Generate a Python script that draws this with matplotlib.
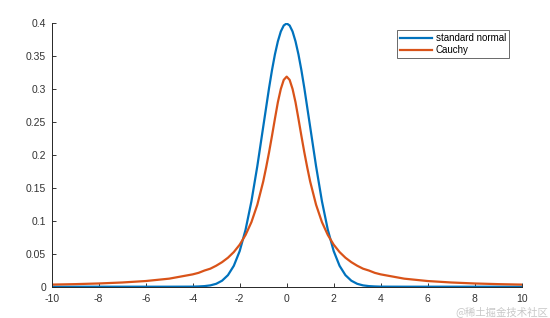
import matplotlib
matplotlib.use("Agg")
import matplotlib.pyplot as plt

x_vals = [-10, -9, -8, -7, -6, -5, -4,
          -3.75, -3.5, -3.25, -3, -2.75, -2.5, -2.25, -2, -1.75, -1.5, -1.25, -1,
          -0.875, -0.75, -0.625, -0.5, -0.375, -0.25, -0.125, 0,
          0.125, 0.25, 0.375, 0.5, 0.625, 0.75, 0.875,
          1, 1.25, 1.5, 1.75, 2,
          2.25, 2.5, 2.75, 3, 3.25, 3.5, 3.75,
          4, 5, 6, 7, 8, 9, 10]

normal_vals = [0, 0, 0, 0, 0, 0, 0.0001,
               0.0004, 0.0009, 0.0020, 0.0044, 0.0091, 0.0175, 0.0317, 0.0540, 0.0863, 0.1295, 0.1826, 0.2420,
               0.2715, 0.3011, 0.3282, 0.3521, 0.3718, 0.3867, 0.3958, 0.3989,
               0.3958, 0.3867, 0.3718, 0.3521, 0.3282, 0.3011, 0.2715,
               0.2420, 0.1826, 0.1295, 0.0863, 0.0540,
               0.0317, 0.0175, 0.0091, 0.0044, 0.0020, 0.0009, 0.0004,
               0.0001, 0, 0, 0, 0, 0, 0]

cauchy_vals = [0.0032, 0.0039, 0.0049, 0.0064, 0.0086, 0.0122, 0.0187,
               0.0210, 0.0245, 0.0273, 0.0318, 0.0372, 0.0439, 0.0525, 0.0637, 0.0784, 0.0979, 0.1242, 0.1592,
               0.1806, 0.2037, 0.2287, 0.2546, 0.2796, 0.2996, 0.3134, 0.3183,
               0.3134, 0.2996, 0.2796, 0.2546, 0.2287, 0.2037, 0.1806,
               0.1592, 0.1242, 0.0979, 0.0784, 0.0637,
               0.0525, 0.0439, 0.0372, 0.0318, 0.0273, 0.0245, 0.0210,
               0.0187, 0.0122, 0.0086, 0.0064, 0.0049, 0.0039, 0.0032]

series_labels = ["standard normal", "Cauchy"]
x_ticks = [-10, -8, -6, -4, -2, 0, 2, 4, 6, 8, 10]
y_ticks = [0, 0.05, 0.1, 0.15, 0.2, 0.25, 0.3, 0.35, 0.4]
y_tick_labels = ["0", "0.05", "0.1", "0.15", "0.2", "0.25", "0.3", "0.35", "0.4"]

plt.rcParams["font.family"] = ["Liberation Sans", "DejaVu Sans"]

fig = plt.figure(figsize=(5.5, 3.18), dpi=100)
ax = fig.add_axes([0.094, 0.0984, 0.8545, 0.8302])

ax.plot(x_vals, normal_vals, color="#0072BD", lw=1.6, label=series_labels[0])
ax.plot(x_vals, cauchy_vals, color="#D95319", lw=1.6, label=series_labels[1])

ax.set_xlim(-10, 10)
ax.set_ylim(0, 0.4)
ax.set_xticks(x_ticks)
ax.set_xticklabels([str(t) for t in x_ticks])
ax.set_yticks(y_ticks)
ax.set_yticklabels(y_tick_labels)
ax.tick_params(direction="in", length=3, width=0.7, labelsize=7.5, colors="#333333")
ax.tick_params(axis="x", pad=5.5)
ax.tick_params(axis="y", pad=4)
for s in ["top", "right"]:
    ax.spines[s].set_visible(False)
for s in ["left", "bottom"]:
    ax.spines[s].set_color("#262626")
    ax.spines[s].set_linewidth(0.7)

leg = ax.legend(loc="upper left", bbox_to_anchor=(0.734, 0.972), fontsize=7,
                frameon=True, fancybox=False, handlelength=3.3, handletextpad=0.4,
                borderpad=0.3, labelspacing=0.2, borderaxespad=0)
leg.get_frame().set_edgecolor("#262626")
leg.get_frame().set_linewidth(0.6)

fig.text(0.997, 0.004, "@稀土掘金技术社区", ha="right", va="bottom", fontsize=7.5,
         color="#c8c8c8", family=["Noto Sans CJK SC", "DejaVu Sans"])

fig.savefig("out.png", dpi=100)
